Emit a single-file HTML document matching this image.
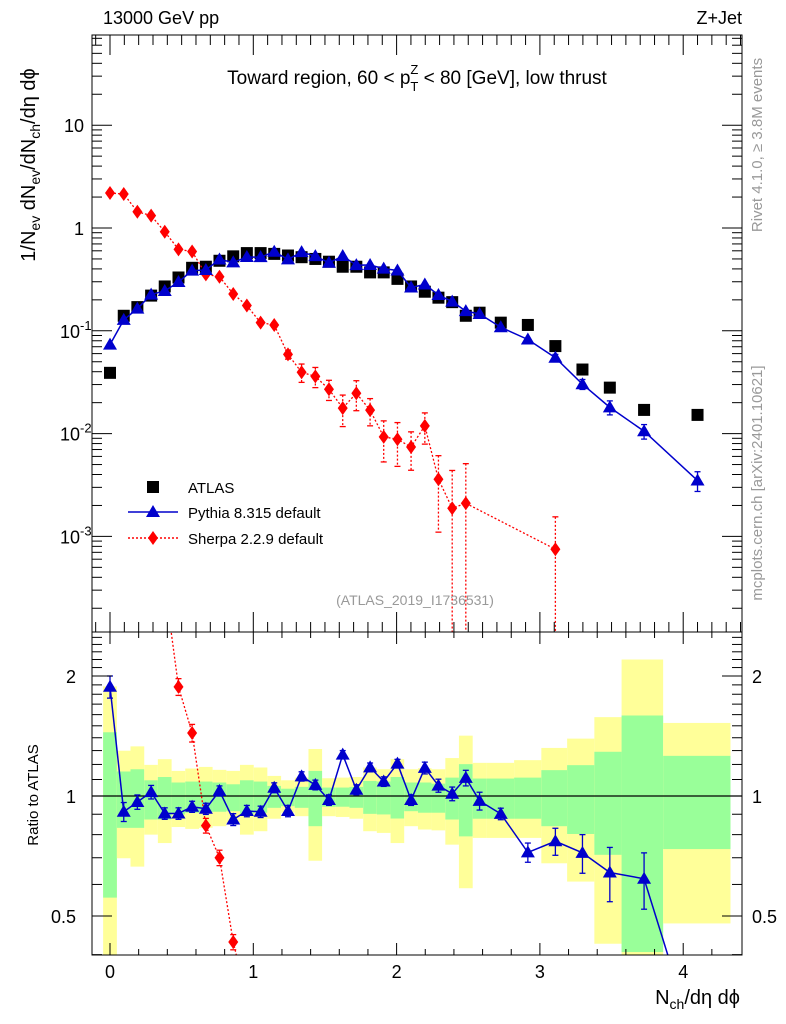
<!DOCTYPE html>
<html><head><meta charset="utf-8"><style>
html,body{margin:0;padding:0;background:#fff;width:786px;height:1024px;overflow:hidden}
svg{display:block;font-family:"Liberation Sans",sans-serif}
</style></head><body>
<svg id="chart" width="786" height="1024" viewBox="0 0 786 1024" xmlns="http://www.w3.org/2000/svg">
<defs>
<clipPath id="cm"><rect x="92" y="35" width="650" height="597"/></clipPath>
<clipPath id="cr"><rect x="92" y="632" width="650" height="323"/></clipPath>
</defs>
<g id="bands" clip-path="url(#cr)"></g>
<g id="marks"></g>
<g id="axes"></g>
<rect x="92" y="35" width="650" height="597" fill="none" stroke="#000"/>
<rect x="92" y="632" width="650" height="323" fill="none" stroke="#000"/>
<text x="103" y="24" font-size="18">13000 GeV pp</text>
<text x="742" y="24" font-size="18" text-anchor="end">Z+Jet</text>
<text x="417" y="84" font-size="19" text-anchor="middle">Toward region, 60 &lt; p<tspan font-size="13" dy="7">T</tspan><tspan font-size="13" dx="-8" dy="-17">Z</tspan><tspan dy="10"> &lt; 80 [GeV], low thrust</tspan></text>
<text transform="translate(35,165) rotate(-90)" font-size="20" text-anchor="middle">1/N<tspan font-size="14" dy="5">ev</tspan><tspan dy="-5"> dN</tspan><tspan font-size="14" dy="5">ev</tspan><tspan dy="-5">/dN</tspan><tspan font-size="14" dy="5">ch</tspan><tspan dy="-5">/dη dϕ</tspan></text>
<text transform="translate(38,795) rotate(-90)" font-size="15" text-anchor="middle">Ratio to ATLAS</text>
<text x="740" y="1004" font-size="20" text-anchor="end">N<tspan font-size="14" dy="5">ch</tspan><tspan dy="-5">/dη dϕ</tspan></text>
<text transform="translate(762,145) rotate(-90)" font-size="15" fill="#999" text-anchor="middle">Rivet 4.1.0, ≥ 3.8M events</text>
<text transform="translate(762,483) rotate(-90)" font-size="15" fill="#999" text-anchor="middle">mcplots.cern.ch [arXiv:2401.10621]</text>
<text x="415" y="605" font-size="14" fill="#999" text-anchor="middle">(ATLAS_2019_I1736531)</text>
<g>
<rect x="147" y="481" width="12" height="12" fill="#000"/>
<text x="188" y="493" font-size="15">ATLAS</text>
<line x1="128" y1="512" x2="178" y2="512" stroke="#00c" stroke-width="1.5"/>
<polygon points="153,505 160,517 146,517" fill="#00c"/>
<text x="188" y="518" font-size="15">Pythia 8.315 default</text>
<line x1="128" y1="538" x2="178" y2="538" stroke="#f00" stroke-width="1.5" stroke-dasharray="2,2"/>
<polygon points="153,531 158,538 153,545 148,538" fill="#f00"/>
<text x="188" y="544" font-size="15">Sherpa 2.2.9 default</text>
</g>
</svg>
<script>
const xVals=[0,0.096,0.191,0.287,0.382,0.478,0.573,0.669,0.764,0.860,0.955,1.051,1.146,1.242,1.337,1.433,1.528,1.624,1.719,1.815,1.910,2.006,2.101,2.197,2.292,2.388,2.483,2.579,2.727,2.916,3.108,3.297,3.488,3.727,4.10];
const binEdges=[-0.048,0.048,0.143,0.239,0.334,0.430,0.525,0.621,0.716,0.812,0.907,1.003,1.098,1.194,1.289,1.385,1.480,1.576,1.671,1.767,1.862,1.958,2.053,2.149,2.244,2.340,2.435,2.531,2.63,2.82,3.01,3.19,3.38,3.57,3.86,4.33];
const atlas=[0.039,0.14,0.17,0.22,0.27,0.33,0.41,0.42,0.48,0.53,0.57,0.57,0.56,0.54,0.52,0.50,0.47,0.42,0.42,0.37,0.37,0.32,0.27,0.24,0.21,0.19,0.14,0.15,0.12,0.114,0.071,0.042,0.028,0.017,0.0152];
const pythiaRatio=[1.88,0.913,0.966,1.023,0.904,0.904,0.94,0.929,1.03,0.873,0.917,0.913,1.049,0.917,1.12,1.066,0.977,1.27,1.037,1.18,1.087,1.206,0.977,1.176,1.062,1.013,1.11,0.972,0.902,0.722,0.77,0.72,0.643,0.62,0.23];
const pythiaRatioErr=[0.12,0.05,0.04,0.04,0.03,0.03,0.03,0.03,0.03,0.03,0.03,0.03,0.03,0.03,0.03,0.03,0.03,0.03,0.03,0.03,0.03,0.03,0.03,0.04,0.04,0.04,0.05,0.05,0.03,0.04,0.06,0.08,0.1,0.1,0.05];
const sherpaX=[0,0.096,0.191,0.287,0.382,0.478,0.573,0.669,0.764,0.860,0.955,1.051,1.146,1.242,1.337,1.433,1.528,1.624,1.719,1.815,1.910,2.006,2.101,2.197,2.292,2.388,2.483,3.108];
const sherpaAtlas=[0.039,0.14,0.17,0.22,0.27,0.33,0.41,0.42,0.48,0.53,0.57,0.57,0.56,0.54,0.52,0.50,0.47,0.42,0.42,0.37,0.37,0.32,0.27,0.24,0.21,0.19,0.14,0.071];
const sherpa=[2.19,2.14,1.44,1.32,0.92,0.62,0.59,0.354,0.336,0.228,0.176,0.12,0.114,0.059,0.0395,0.036,0.027,0.0177,0.0247,0.0169,0.0093,0.0088,0.0074,0.0119,0.0036,0.00188,0.0021,0.00075];
const sherpaErr=[0.1,0.1,0.06,0.05,0.04,0.03,0.03,0.015,0.015,0.01,0.008,0.006,0.006,0.006,0.008,0.008,0.006,0.006,0.008,0.005,0.004,0.004,0.003,0.004,0.0025,0.0025,0.003,0.0008];
const yellowHi=[1.884,1.299,1.332,1.197,1.237,1.156,1.172,1.183,1.163,1.156,1.197,1.179,1.123,1.095,1.112,1.312,1.108,1.112,1.116,1.179,1.167,1.237,1.167,1.174,1.167,1.245,1.417,1.211,1.211,1.230,1.320,1.393,1.577,2.20,1.525];
const yellowLo=[0.35,0.698,0.665,0.800,0.762,0.836,0.827,0.832,0.840,0.856,0.800,0.816,0.877,0.908,0.890,0.688,0.890,0.886,0.877,0.816,0.808,0.762,0.840,0.824,0.820,0.755,0.587,0.785,0.785,0.785,0.678,0.610,0.426,0.35,0.479];
const greenHi=[1.445,1.152,1.167,1.095,1.116,1.081,1.087,1.087,1.081,1.070,1.095,1.087,1.060,1.043,1.054,1.156,1.050,1.050,1.054,1.091,1.087,1.116,1.081,1.081,1.074,1.112,1.202,1.106,1.106,1.112,1.161,1.195,1.291,1.592,1.261];
const greenLo=[0.556,0.832,0.832,0.873,0.873,0.899,0.908,0.911,0.913,0.916,0.899,0.908,0.934,0.943,0.934,0.840,0.940,0.940,0.934,0.902,0.899,0.878,0.916,0.908,0.908,0.873,0.792,0.877,0.877,0.877,0.840,0.803,0.712,0.406,0.736];
const xTicks=[0,1,2,3,4];
const yMainTicks=[10,1,0.1,0.01,0.001];
const yMainLabels=["10","1","10|-1","10|-2","10|-3"];
const yRatioTicks=[2,1,0.5];
const yRatioLabels=["2","1","0.5"];

const NS="http://www.w3.org/2000/svg";
const cl=(y,a,b)=>Math.max(a,Math.min(b,y));
const X=v=>110+v*143.3;
const Ym=v=>228-Math.log10(v)*102.8;
const Yr=v=>796-Math.log2(v)*120;
const Ymc=v=>cl(v>0?Ym(v):640,30,640);
const Yrc=v=>cl(v>0?Yr(v):960,625,960);
function mk(tag,attrs,parent){const e=document.createElementNS(NS,tag);for(const k in attrs)e.setAttribute(k,attrs[k]);parent.appendChild(e);return e;}
const bands=document.getElementById('bands'),marks=document.getElementById('marks'),axes=document.getElementById('axes');

for(let i=0;i<xVals.length;i++){
  const x0=X(binEdges[i]),x1=X(binEdges[i+1]);
  const y=mk('rect',{x:x0,y:Yrc(yellowHi[i]),width:x1-x0,height:Yrc(yellowLo[i])-Yrc(yellowHi[i]),fill:'#ffff99'},bands);
  
  
  const g=mk('rect',{x:x0,y:Yrc(greenHi[i]),width:x1-x0,height:Yrc(greenLo[i])-Yrc(greenHi[i]),fill:'#99ff99'},bands);
  
  
}
const one=mk('line',{x1:92,x2:742,y1:Yr(1),y2:Yr(1),stroke:'#000','stroke-width':1.2},bands);



const gm=mk('g',{'clip-path':'url(#cm)'},marks);
const gr=mk('g',{'clip-path':'url(#cr)'},marks);
function tri(p,x,y,c){return mk('polygon',{points:`${x},${y-7} ${x+7},${y+5} ${x-7},${y+5}`,fill:c},p);}
function dia(p,x,y){return mk('polygon',{points:`${x},${y-7} ${x+5},${y} ${x},${y+7} ${x-5},${y}`,fill:'#f00'},p);}
function ebar(p,x,y1,y2,c,dash){mk('line',{x1:x,x2:x,y1:y1,y2:y2,stroke:c,'stroke-width':1.3,'stroke-dasharray':dash||'none'},p);mk('line',{x1:x-3,x2:x+3,y1:y1,y2:y1,stroke:c,'stroke-width':1.3},p);mk('line',{x1:x-3,x2:x+3,y1:y2,y2:y2,stroke:c,'stroke-width':1.3},p);}
function clippedSegs(p,xs,vs,stroke,width,dash,name){
  for(let i=0;i<vs.length-1;i++){
    let x1=X(xs[i]),y1=Yr(vs[i]),x2=X(xs[i+1]),y2=Yr(vs[i+1]);
    const lo=625,hi=960;
    if((y1<lo&&y2<lo)||(y1>hi&&y2>hi))continue;
    const f=(yt)=>x1+(x2-x1)*(yt-y1)/(y2-y1);
    let ax=x1,ay=y1,bx=x2,by=y2;
    if(ay<lo){ax=f(lo);ay=lo;} if(ay>hi){ax=f(hi);ay=hi;}
    if(by<lo){bx=f(lo);by=lo;} if(by>hi){bx=f(hi);by=hi;}
    const s=mk('line',{x1:ax,y1:ay,x2:bx,y2:by,stroke:stroke,'stroke-width':width,'stroke-dasharray':dash},p);
    
    
  }
}

atlas.forEach((v,i)=>{const r=mk('rect',{x:X(xVals[i])-6,y:Ym(v)-6,width:12,height:12,fill:'#000'},gm);

});

const sp=mk('polyline',{points:sherpa.map((v,i)=>X(sherpaX[i])+','+Ym(v)).join(' '),fill:'none',stroke:'#f00','stroke-width':1.3,'stroke-dasharray':'2,2'},gm);


sherpa.forEach((v,i)=>{const x=X(sherpaX[i]);
ebar(gm,x,Ymc(v+sherpaErr[i]),Ymc(v-sherpaErr[i]),'#f00','2,2');
const d=dia(gm,x,Ym(v));

});

const pyth=atlas.map((a,i)=>a*pythiaRatio[i]);
const pl=mk('polyline',{points:pyth.map((v,i)=>X(xVals[i])+','+Ym(v)).join(' '),fill:'none',stroke:'#00c','stroke-width':1.5},gm);


pyth.forEach((v,i)=>{const e=atlas[i]*pythiaRatioErr[i];const x=X(xVals[i]);
if(i>=30)ebar(gm,x,Ym(v+e),Ym(v-e),'#00c');
const t=tri(gm,x,Ym(v),'#00c');

});

const sr=sherpa.map((v,i)=>v/sherpaAtlas[i]);
clippedSegs(gr,sherpaX,sr,'#f00',1.3,'2,2','sherpa-ratio-line');
sr.forEach((v,i)=>{const y=Yr(v);if(y<625||y>960)return;const x=X(sherpaX[i]);const e=sherpaErr[i]/sherpaAtlas[i];
ebar(gr,x,Yrc(v+e),Yrc(v-e),'#f00','2,2');
const d=dia(gr,x,y);

});

clippedSegs(gr,xVals,pythiaRatio,'#00c',1.5,'none','pythia-ratio-line');
pythiaRatio.forEach((v,i)=>{const y=Yr(v);if(y<625||y>960)return;const x=X(xVals[i]);const e=pythiaRatioErr[i];
ebar(gr,x,Yrc(v+e),Yrc(v-e),'#00c');
const t=tri(gr,x,y,'#00c');

});

function L(x1,y1,x2,y2){mk('line',{x1,y1,x2,y2,stroke:'#000','stroke-width':1},axes);}
for(let v=-0.1;v<=4.4;v+=0.1){const x=X(+v.toFixed(1));if(x<92||x>742)continue;const maj=Math.abs(v-Math.round(v))<1e-6;const len=maj?20:10;
L(x,632,x,632-len);L(x,35,x,35+len);}
for(let v=-0.2;v<=4.4;v+=0.2){const x=X(+v.toFixed(1));if(x<92||x>742)continue;const maj=Math.abs(v-Math.round(v))<1e-6;const len=maj?12:6;
L(x,955,x,955-len);L(x,632,x,632+len);}
for(let d=-4;d<=1;d++)for(let m=1;m<=9;m++){const y=Ym(m*Math.pow(10,d));if(y<35||y>632)continue;const len=m===1?20:10;L(92,y,92+len,y);L(742,y,742-len,y);}
for(let v=0.4;v<=2.6;v+=0.1){const vv=+v.toFixed(1);const y=Yr(vv);if(y<632||y>955)continue;const maj=(vv===0.5||vv===1||vv===2);const len=maj?20:10;L(92,y,92+len,y);L(742,y,742-len,y);}
xTicks.forEach(v=>{const t=mk('text',{x:X(v),y:978,'font-size':18,'text-anchor':'middle'},axes);t.textContent=v;

});
yMainTicks.forEach((v,i)=>{const parts=yMainLabels[i].split('|');const t=mk('text',{x:parts[1]?60:84,y:Ym(v)+7,'font-size':18,'text-anchor':parts[1]?'start':'end'},axes);


if(parts[1]){t.textContent='10';const s=mk('tspan',{'font-size':13,dy:-8},t);s.textContent=parts[1];}else t.textContent=parts[0];});
yRatioTicks.forEach((v,i)=>{const t=mk('text',{x:76,y:Yr(v)+7,'font-size':18,'text-anchor':'end'},axes);t.textContent=yRatioLabels[i];


const t2=mk('text',{x:752,y:Yr(v)+7,'font-size':18},axes);t2.textContent=yRatioLabels[i];

});
</script>
</body></html>
